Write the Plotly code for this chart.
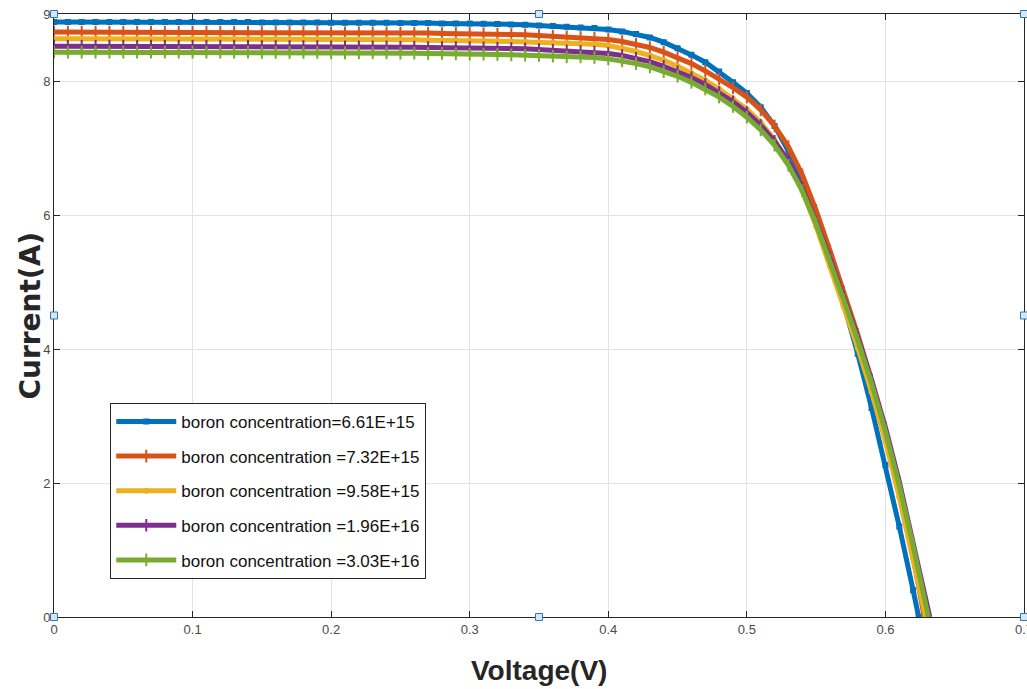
import plotly.graph_objects as go

# Shared voltage grid (V)
voltage = [0.00, 0.01, 0.02, 0.03, 0.04, 0.05, 0.06, 0.07, 0.08, 0.09,
           0.10, 0.11, 0.12, 0.13, 0.14, 0.15, 0.16, 0.17, 0.18, 0.19,
           0.20, 0.21, 0.22, 0.23, 0.24, 0.25, 0.26, 0.27, 0.28, 0.29,
           0.30, 0.31, 0.32, 0.33, 0.34, 0.35, 0.36, 0.37, 0.38, 0.39,
           0.40, 0.41, 0.42, 0.43, 0.44, 0.45, 0.46, 0.47, 0.48, 0.49,
           0.50, 0.51, 0.52, 0.53, 0.54, 0.55, 0.56, 0.57, 0.58, 0.59,
           0.60, 0.61, 0.62]

labels = ["boron concentration=6.61E+15",
          "boron concentration =7.32E+15",
          "boron concentration =9.58E+15",
          "boron concentration =1.96E+16",
          "boron concentration =3.03E+16"]

voc = [0.624, 0.628, 0.629, 0.632, 0.631]

i_blue = [8.88, 8.88, 8.88, 8.88, 8.88, 8.88, 8.88, 8.88, 8.88, 8.88,
          8.88, 8.88, 8.88, 8.88, 8.88, 8.875, 8.875, 8.875, 8.875, 8.875,
          8.87, 8.87, 8.87, 8.87, 8.87, 8.865, 8.865, 8.865, 8.86, 8.86,
          8.86, 8.855, 8.85, 8.845, 8.84, 8.83, 8.82, 8.81, 8.80, 8.79,
          8.77, 8.74, 8.70, 8.65, 8.58, 8.49, 8.39, 8.28, 8.14, 7.98,
          7.82, 7.61, 7.33, 6.95, 6.47, 5.91, 5.30, 4.66, 3.93, 3.12,
          2.27, 1.35, 0.40]

i_orange = [8.73, 8.73, 8.73, 8.73, 8.73, 8.73, 8.73, 8.73, 8.73, 8.73,
            8.73, 8.73, 8.73, 8.73, 8.73, 8.725, 8.725, 8.725, 8.725, 8.725,
            8.72, 8.72, 8.72, 8.72, 8.72, 8.715, 8.715, 8.715, 8.71, 8.71,
            8.71, 8.705, 8.70, 8.695, 8.69, 8.68, 8.67, 8.66, 8.65, 8.64,
            8.62, 8.59, 8.55, 8.50, 8.43, 8.35, 8.26, 8.15, 8.03, 7.90,
            7.76, 7.57, 7.33, 7.02, 6.60, 6.07, 5.47, 4.85, 4.22, 3.53,
            2.75, 1.86, 0.91]

i_yellow = [8.63, 8.63, 8.63, 8.63, 8.63, 8.63, 8.63, 8.63, 8.63, 8.63,
            8.63, 8.63, 8.63, 8.63, 8.63, 8.625, 8.625, 8.625, 8.625, 8.625,
            8.62, 8.62, 8.62, 8.62, 8.62, 8.615, 8.615, 8.61, 8.61, 8.605,
            8.60, 8.60, 8.595, 8.59, 8.585, 8.58, 8.575, 8.57, 8.56, 8.55,
            8.53, 8.49, 8.44, 8.38, 8.31, 8.22, 8.12, 8.01, 7.88, 7.74,
            7.58, 7.38, 7.12, 6.79, 6.36, 5.83, 5.24, 4.63, 4.02, 3.36,
            2.62, 1.79, 0.88]

i_purple = [8.52, 8.52, 8.52, 8.52, 8.52, 8.52, 8.52, 8.52, 8.52, 8.52,
            8.52, 8.52, 8.52, 8.52, 8.52, 8.515, 8.515, 8.515, 8.515, 8.515,
            8.51, 8.51, 8.51, 8.51, 8.51, 8.505, 8.505, 8.50, 8.50, 8.50,
            8.50, 8.495, 8.49, 8.485, 8.48, 8.47, 8.46, 8.45, 8.44, 8.43,
            8.41, 8.38, 8.34, 8.29, 8.22, 8.14, 8.05, 7.95, 7.83, 7.69,
            7.53, 7.34, 7.10, 6.80, 6.40, 5.90, 5.35, 4.77, 4.18, 3.54,
            2.83, 2.02, 1.12]

i_green = [8.43, 8.43, 8.43, 8.43, 8.43, 8.43, 8.43, 8.43, 8.43, 8.43,
           8.43, 8.43, 8.43, 8.43, 8.43, 8.425, 8.425, 8.425, 8.425, 8.425,
           8.42, 8.42, 8.42, 8.42, 8.42, 8.415, 8.415, 8.41, 8.41, 8.405,
           8.40, 8.40, 8.395, 8.39, 8.385, 8.38, 8.37, 8.36, 8.36, 8.35,
           8.33, 8.30, 8.26, 8.21, 8.14, 8.07, 7.98, 7.88, 7.76, 7.62,
           7.46, 7.27, 7.04, 6.74, 6.36, 5.87, 5.31, 4.73, 4.13, 3.49,
           2.77, 1.96, 1.06]

# tail points between 0.62 V and Voc (purple/green cross 0.63 V)
tails = [[], [], [], [(0.63, 0.20)], [(0.63, 0.12)]]

colors = ["#0072BD", "#D95319", "#EDB120", "#7E2F8E", "#77AC30"]
symbols = ["square", "line-ns", "circle", "line-ns", "line-ns"]
msizes = [4, 9, 4, 9, 9]

series = [i_blue, i_orange, i_yellow, i_purple, i_green]

fig = go.Figure()
for k, cur in enumerate(series):
    xs = list(voltage) + [p[0] for p in tails[k]] + [voc[k]]
    ys = list(cur) + [p[1] for p in tails[k]] + [0.0]
    fig.add_trace(go.Scatter(
        x=xs, y=ys, mode="lines+markers", name=labels[k],
        legendgroup="g%d" % k,
        line=dict(color=colors[k], width=5),
        marker=dict(symbol=symbols[k], size=msizes[k], color=colors[k],
                    line=dict(color=colors[k], width=2)),
    ))

axis_common = dict(showline=True, linecolor="#262626", linewidth=1, mirror="ticks",
                   ticks="inside", ticklen=6, tickcolor="#262626",
                   showgrid=True, gridcolor="#e3e3e3", gridwidth=1,
                   zeroline=False, automargin=False, ticklabeloverflow="allow",
                   tickfont=dict(family="Liberation Sans, Arial", size=13, color="#4a4a4a"))

fig.update_xaxes(range=[0, 0.7], tickvals=[0, 0.1, 0.2, 0.3, 0.4, 0.5, 0.6, 0.7],
                 ticktext=["0", "0.1", "0.2", "0.3", "0.4", "0.5", "0.6", "0.7"],
                 **axis_common)
fig.update_yaxes(range=[0, 9], tickvals=[0, 2, 4, 6, 8, 9], **axis_common)

# edit-mode selection handles around the axes
handles = [(0, 0), (0.5, 0), (1, 0), (0, 0.5), (1, 0.5), (0, 1), (0.5, 1), (1, 1)]
shapes = []
for hx, hy in handles:
    shapes.append(dict(type="rect", xref="paper", yref="paper",
                       xsizemode="pixel", ysizemode="pixel",
                       xanchor=hx, yanchor=hy, x0=-3.5, x1=3.5, y0=-3.5, y1=3.5,
                       fillcolor="#d6e6f5", line=dict(color="#2a78c2", width=1)))

annotations = [
    dict(text="<b>Voltage(V)</b>", xref="paper", yref="paper", x=0.4996, y=-0.088,
         xanchor="center", yanchor="middle", showarrow=False,
         font=dict(family="Liberation Sans, Arial", size=28, color="#262626")),
    dict(text="<b>Current(A)</b>", xref="paper", yref="paper", x=-0.0247, y=0.5,
         xanchor="center", yanchor="middle", showarrow=False, textangle=-90,
         font=dict(family="DejaVu Sans, Arial", size=28, color="#262626")),
]

fig.update_layout(
    width=1027, height=689,
    margin=dict(l=54, r=3, t=14, b=72),
    paper_bgcolor="white", plot_bgcolor="white",
    shapes=shapes,
    annotations=annotations,
    showlegend=True,
    legend=dict(x=0.058, y=0.355, xanchor="left", yanchor="top",
                bgcolor="white", bordercolor="#262626", borderwidth=1,
                font=dict(family="Liberation Sans, Arial", size=17, color="#111111"),
                itemwidth=60, traceorder="grouped", tracegroupgap=9.5,
                itemsizing="trace"),
)

fig.write_html("out.html", config={"displayModeBar": False},
               post_script="document.body.style.margin='0';document.body.style.padding='0';"
                           "document.body.style.overflow='hidden';")
